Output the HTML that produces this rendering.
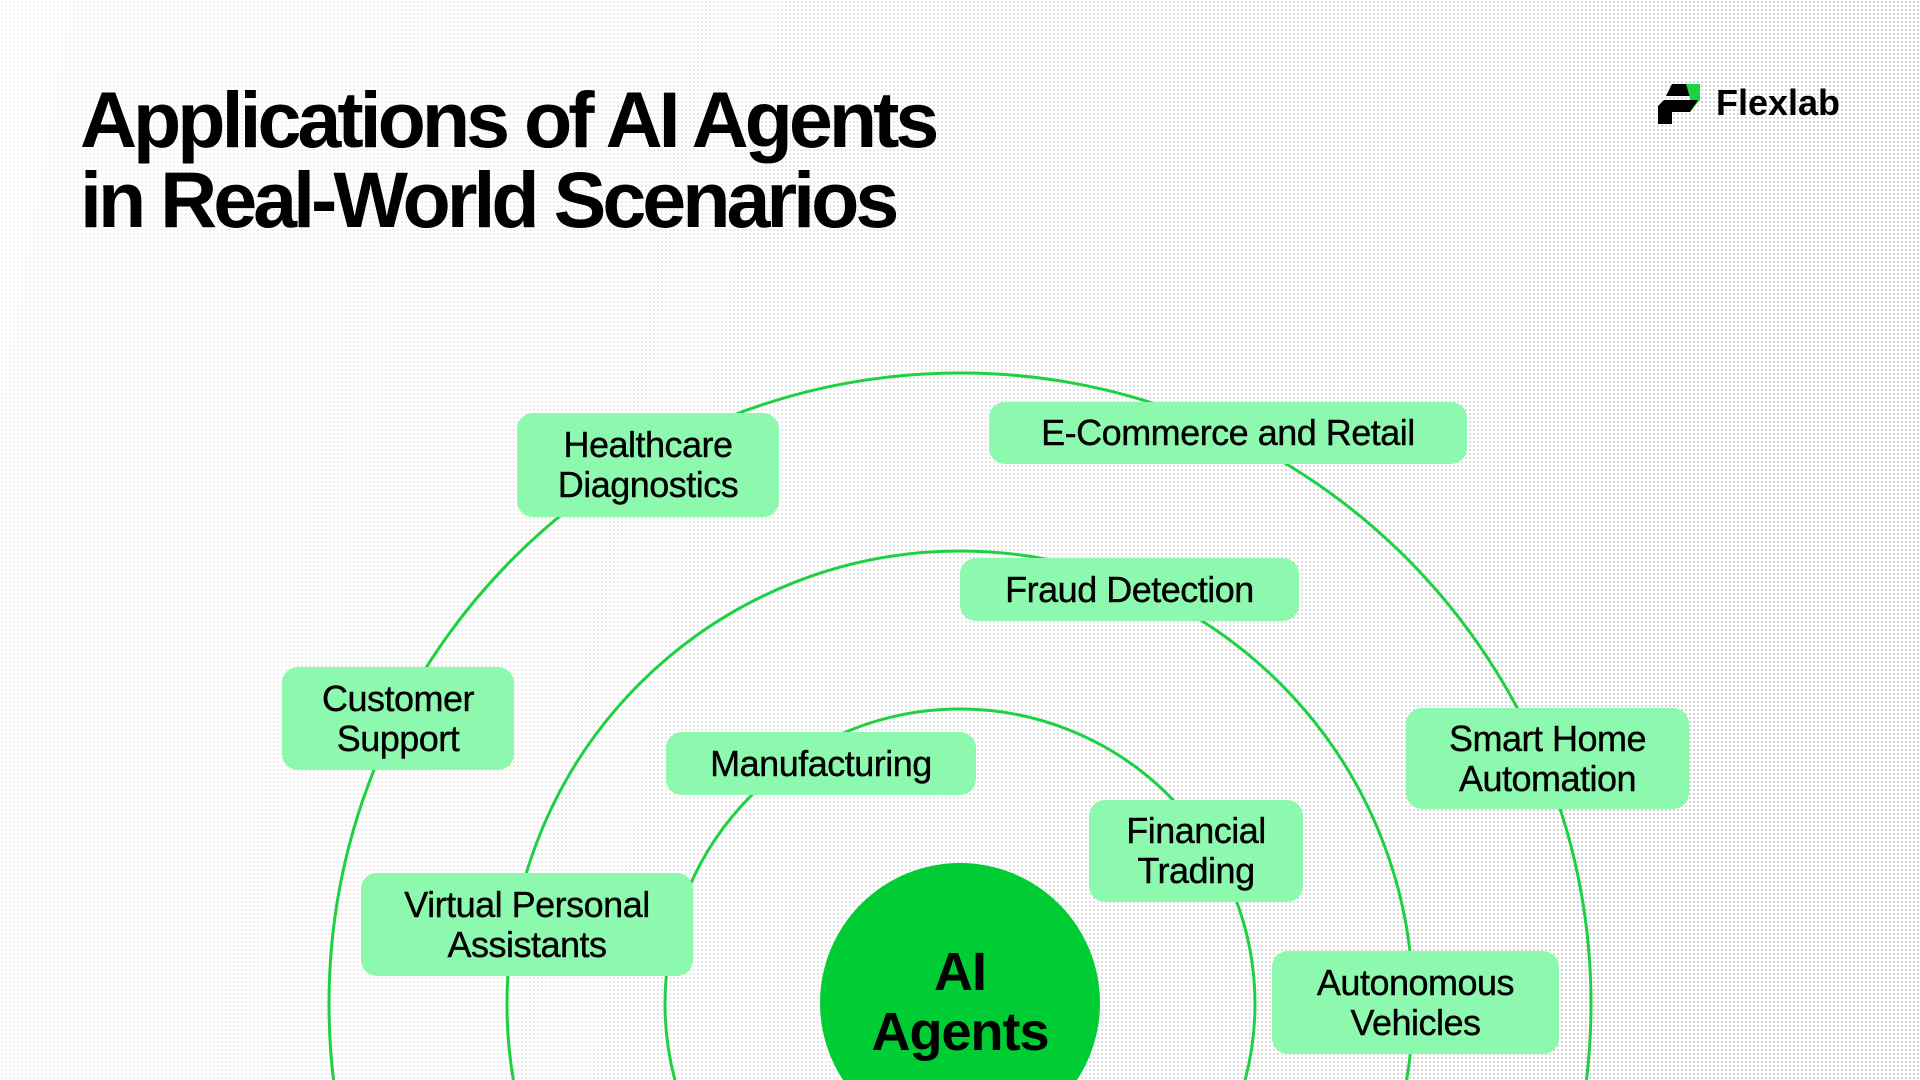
<!DOCTYPE html>
<html><head><meta charset="utf-8"><style>
html,body{margin:0;padding:0;width:1920px;height:1080px;overflow:hidden}
body{position:relative;background:#fff;font-family:"Liberation Sans",sans-serif;}
.bg{position:absolute;left:0;top:0;width:1920px;height:1080px;background-image:radial-gradient(circle,rgba(110,110,110,0.4) 0.9px,transparent 1.2px);background-size:4px 4px;-webkit-mask-image:linear-gradient(100deg,rgba(0,0,0,0.25) 0%,rgba(0,0,0,0.5) 50%,rgba(0,0,0,1) 100%);mask-image:linear-gradient(100deg,rgba(0,0,0,0.25) 0%,rgba(0,0,0,0.5) 50%,rgba(0,0,0,1) 100%);}
h1{position:absolute;left:80px;top:80px;margin:0;font-size:79px;line-height:80px;font-weight:bold;letter-spacing:-4px;color:#000}
.pill{position:absolute;background:#8df9ae;border-radius:16px;display:flex;align-items:center;justify-content:center;text-align:center;font-size:36px;line-height:40px;color:#000;letter-spacing:-0.5px;-webkit-text-stroke:0.4px #000}
svg{position:absolute;left:0;top:0}
.logo{position:absolute;left:1716px;top:82px;font-size:36px;font-weight:bold;color:#000}
</style></head><body>
<div class="bg"></div>
<h1>Applications of AI Agents<br>in Real-World Scenarios</h1>
<svg width="1920" height="1080">
<g fill="none" stroke="#1ed142" stroke-width="3">
<circle cx="960" cy="1004" r="295"/>
<circle cx="960" cy="1004" r="453"/>
<circle cx="960" cy="1004" r="631"/>
</g>
<circle cx="960" cy="1003" r="140" fill="#00cc33"/>
<polygon points="1672,84 1700,84 1694,96 1666,96" fill="#000"/>
<polygon points="1686,84 1700,84 1700,100 1690,112 1690,98" fill="#1ed142"/>
<polygon points="1664,100 1698,100 1690,112 1672,112 1672,124 1658,124 1658,106" fill="#000"/>
</svg>
<div class="logo">Flexlab</div>
<div style="position:absolute;left:820px;top:942px;width:280px;text-align:center;font-size:54px;line-height:60px;font-weight:bold;letter-spacing:-1px;color:#000">AI<br>Agents</div>
<div class="pill" style="left:517px;top:413px;width:262px;height:104px">Healthcare<br>Diagnostics</div>
<div class="pill" style="left:989px;top:402px;width:478px;height:62px">E-Commerce and Retail</div>
<div class="pill" style="left:960px;top:558px;width:339px;height:63px">Fraud Detection</div>
<div class="pill" style="left:282px;top:667px;width:232px;height:103px">Customer<br>Support</div>
<div class="pill" style="left:1406px;top:708px;width:283px;height:101px">Smart Home<br>Automation</div>
<div class="pill" style="left:666px;top:732px;width:310px;height:63px">Manufacturing</div>
<div class="pill" style="left:1089px;top:800px;width:214px;height:102px">Financial<br>Trading</div>
<div class="pill" style="left:361px;top:873px;width:332px;height:103px">Virtual Personal<br>Assistants</div>
<div class="pill" style="left:1272px;top:951px;width:287px;height:103px">Autonomous<br>Vehicles</div>
</body></html>
